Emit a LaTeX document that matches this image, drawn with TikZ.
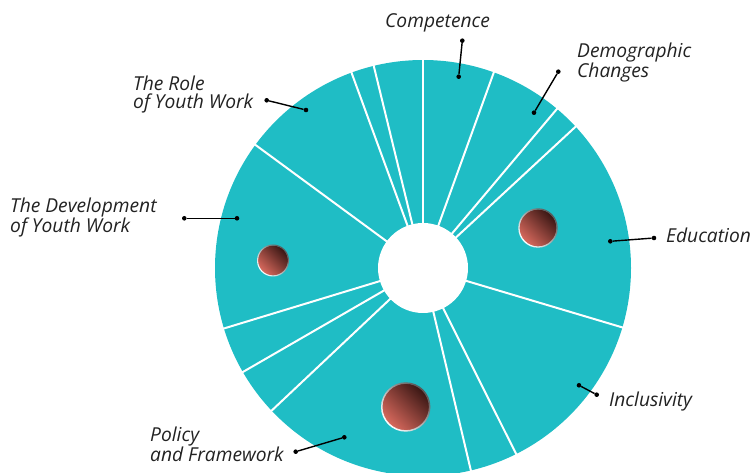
\documentclass[tikz,border=0pt]{standalone}
\usepackage{fontspec}
\setmainfont{Open Sans}
\usetikzlibrary{calc}
\definecolor{donut}{HTML}{1FBDC5}
\definecolor{txt}{HTML}{222222}
\definecolor{ballL}{HTML}{D8695D}
\definecolor{ballM}{HTML}{93403A}
\definecolor{ballD}{HTML}{3A1714}
\definecolor{rimD}{HTML}{5A5555}
\begin{document}
\begin{tikzpicture}[x=1pt,y=1pt,
  divider/.style={white, line width=2},
  lbl/.style={font=\itshape\fontsize{19.2}{18.4}\selectfont, text=txt, inner sep=0, align=left, anchor=base west},
  dot/.style={circle, fill=black, inner sep=0, minimum size=4.6},
  lead/.style={line width=1.4, black},
  ballfill/.style={shading=axis, top color=ballD, middle color=ballM, bottom color=ballL, shading angle=-45},
  ballrim/.style={shading=axis, top color=rimD, bottom color=white, shading angle=-45, even odd rule}]
\useasboundingbox (0,0) rectangle (750,473);
\coordinate (c) at (423,205);
\fill[donut] (c) circle (208);
\foreach \a in {90,70.1,49.9,42.8,-16.6,-63.4,-76.7,223.3,210,196.9,143.7,110.1,103.7}
  \draw[divider] ($(c)+(\a:40)$) -- ($(c)+(\a:212)$);
\fill[white] (c) circle (45);
% balls
\shade[ballfill] (405.7,66) circle (23.5);
\shade[ballrim] (405.7,66) circle (24.7) circle (23.2);
\shade[ballfill] (538,245) circle (18.6);
\shade[ballrim] (538,245) circle (19.7) circle (18.4);
\shade[ballfill] (273,212.5) circle (15);
\shade[ballrim] (273,212.5) circle (16) circle (14.9);
% labels
\node[lbl] (tcomp) at (385,445) {Competence};
\node[lbl] (tdemo) at (577,395) {Demographic\\Changes};
\node[lbl] (trole) at (133,364) {The Role\\of Youth Work};
\node[lbl] (tdev) at (10,240) {The Development\\of Youth Work};
\node[lbl] (tedu) at (666,230) {Education};
\node[lbl] (tinc) at (609,66.5) {Inclusivity};
\node[lbl] (tpol) at (150,11.5) {Policy\\and Framework};
% dots and leaders
\node[dot] (comp1) at (462.3,432.3) {};
\node[dot] (comp2) at (458.7,396.3) {};
\node[dot] (demo1) at (558.3,401.3) {};
\node[dot] (demo2) at (534,360.3) {};
\node[dot] (role1) at (266.7,372.7) {};
\node[dot] (role2) at (306,363) {};
\node[dot] (dev1) at (184.3,254.7) {};
\node[dot] (dev2) at (237,254.7) {};
\node[dot] (edu1) at (654,235) {};
\node[dot] (edu2) at (610.3,231.7) {};
\node[dot] (inc1) at (596.7,78.3) {};
\node[dot] (inc2) at (579,87.7) {};
\node[dot] (pol1) at (295.7,21.3) {};
\node[dot] (pol2) at (344.3,35.7) {};
\draw[lead] (comp1) -- (comp2);
\draw[lead] (demo1) -- (demo2);
\draw[lead] (role1) -- (role2);
\draw[lead] (dev1) -- (dev2);
\draw[lead] (edu1) -- (edu2);
\draw[lead] (inc1) -- (inc2);
\draw[lead] (pol1) -- (pol2);
\end{tikzpicture}
\end{document}
